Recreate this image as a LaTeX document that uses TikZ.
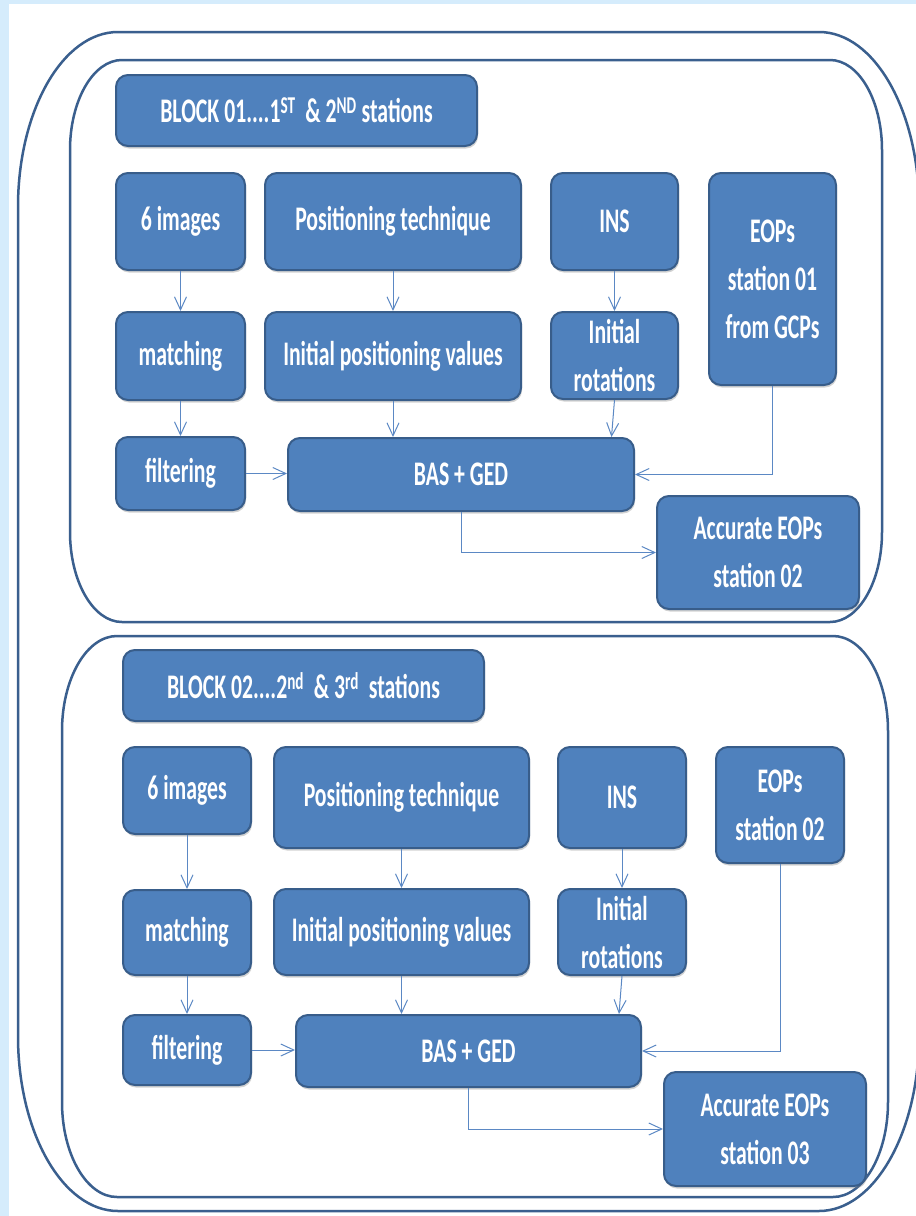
\documentclass[tikz,border=0pt]{standalone}
\usepackage{fontspec}
\setmainfont{Carlito}[FakeStretch=0.63]
\usetikzlibrary{arrows.meta,shadows}
\definecolor{bgblue}{HTML}{D5ECFC}
\definecolor{boxfill}{HTML}{4F81BD}
\definecolor{boxline}{HTML}{385D8A}
\definecolor{frameline}{HTML}{3A5F8E}
\definecolor{arrowc}{HTML}{5B88C4}
\newcommand\placebox[6]{%
  \node[flowbox, minimum width={(#4)-(#2)}, minimum height={(#5)-(#3)}] (#1)
    at ({((#2)+(#4))/2},{((#3)+(#5))/2}) {#6};}
\newcommand\ellframe[6]{%
 \draw[frame] (#1,{#2+#6}) .. controls (#1,{#2+0.448*#6}) and ({#1+0.448*#5},#2) .. ({#1+#5},#2)
 -- ({#3-#5},#2) .. controls ({#3-0.448*#5},#2) and (#3,{#2+0.448*#6}) .. (#3,{#2+#6})
 -- (#3,{#4-#6}) .. controls (#3,{#4-0.448*#6}) and ({#3-0.448*#5},#4) .. ({#3-#5},#4)
 -- ({#1+#5},#4) .. controls ({#1+0.448*#5},#4) and (#1,{#4-0.448*#6}) .. (#1,{#4-#6}) -- cycle;}
\begin{document}
\begin{tikzpicture}[x=1pt,y=-1pt,
 flowbox/.style={draw=boxline, line width=2pt, fill=boxfill, rounded corners=12pt,
   text=white, font=\fontsize{34.5}{48}\selectfont\bfseries, align=center, inner sep=0pt,
   drop shadow={shadow xshift=1pt,shadow yshift=-2.5pt,opacity=0.35}},
 conn/.style={draw=arrowc, line width=1pt, -{Straight Barb[length=13pt,width=12pt]}},
 frame/.style={draw=frameline, line width=2.5pt}]
\useasboundingbox (0,0) rectangle (916,1216);
\fill[bgblue] (0,0) rectangle (916,1216);
\fill[white] (9,4) rectangle (916,1216);
% frames
\ellframe{18}{32}{919}{1211}{100}{175}
\ellframe{70}{60}{882}{622}{52}{90}
\ellframe{62}{636}{888}{1197}{55}{95}
% block 1
\placebox{title1}{116}{75}{477}{146}{BLOCK 01....1\textsuperscript{ST}\ \ \& 2\textsuperscript{ND} stations}
\placebox{img1}{116}{173}{245}{270}{6 images}
\placebox{pos1}{265}{173}{521}{270}{Positioning technique}
\placebox{ins1}{551}{173}{678}{270}{INS}
\placebox{eop1}{709}{173}{836}{385}{EOPs\\station 01\\from GCPs}
\placebox{match1}{116}{312}{245}{400}{matching}
\placebox{ipv1}{265}{312}{521}{400}{Initial positioning values}
\placebox{ir1}{551}{312}{678}{399}{Initial\\rotations}
\placebox{filt1}{116}{437}{245}{510}{filtering}
\placebox{bas1}{288}{438}{634}{511}{BAS + GED}
\placebox{acc1}{657}{496}{859}{609}{Accurate EOPs\\station 02}
\draw[conn] (img1.south) -- (match1.north);
\draw[conn] (match1.south) -- (filt1.north);
\draw[conn] (pos1.south) -- (ipv1.north);
\draw[conn] (ins1.south) -- (ir1.north);
\draw[conn] (ipv1.south) -- (ipv1.south |- bas1.north);
\draw[conn] (ir1.south) -- ([xshift=-3pt]ir1.south |- bas1.north);
\draw[conn] (filt1.east) -- (filt1.east -| bas1.west);
\draw[conn] (eop1.south) |- (bas1.east);
\draw[conn] (bas1.south) |- (acc1.west);
% block 2
\placebox{title2}{123}{650}{484}{721}{BLOCK 02....2\textsuperscript{nd}\ \ \& 3\textsuperscript{rd}\ \ stations}
\placebox{img2}{123}{747}{251}{834}{6 images}
\placebox{pos2}{274}{747}{529}{848}{Positioning technique}
\placebox{ins2}{558}{747}{686}{848}{INS}
\placebox{eop2}{716}{747}{844}{863}{EOPs\\station 02}
\placebox{match2}{123}{890}{251}{975}{matching}
\placebox{ipv2}{274}{889}{529}{975}{Initial positioning values}
\placebox{ir2}{558}{889}{686}{975}{Initial\\rotations}
\placebox{filt2}{123}{1015}{251}{1085}{filtering}
\placebox{bas2}{296}{1015}{641}{1087}{BAS + GED}
\placebox{acc2}{664}{1072}{866}{1186}{Accurate EOPs\\station 03}
\draw[conn] (img2.south) -- (match2.north);
\draw[conn] (match2.south) -- (filt2.north);
\draw[conn] (pos2.south) -- (ipv2.north);
\draw[conn] (ins2.south) -- (ir2.north);
\draw[conn] (ipv2.south) -- (ipv2.south |- bas2.north);
\draw[conn] (ir2.south) -- ([xshift=-3pt]ir2.south |- bas2.north);
\draw[conn] (filt2.east) -- (filt2.east -| bas2.west);
\draw[conn] (eop2.south) |- (bas2.east);
\draw[conn] (bas2.south) |- (acc2.west);
\end{tikzpicture}
\end{document}
